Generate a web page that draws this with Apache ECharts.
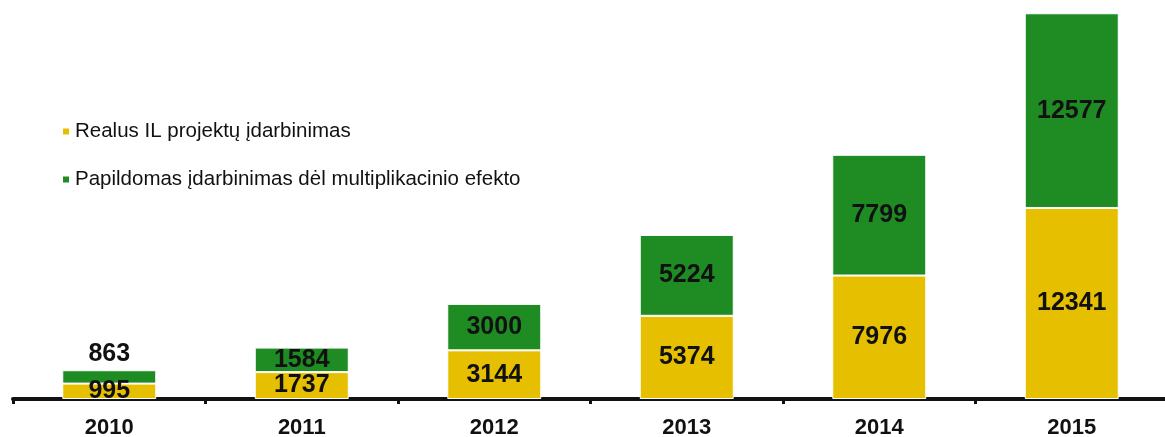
<!DOCTYPE html>
<html>
<head>
<meta charset="utf-8">
<script src="https://cdn.jsdelivr.net/npm/echarts@6/dist/echarts.min.js"></script>
<style>
  html, body { margin: 0; padding: 0; background: #fff; }
  #chart { width: 1165px; height: 437px; }
</style>
</head>
<body>
<div id="chart"></div>
<script>
var years = ['2010', '2011', '2012', '2013', '2014', '2015']
var realValues = [995, 1737, 3144, 5374, 7976, 12341]
var extraValues = [863, 1584, 3000, 5224, 7799, 12577]
var seriesNames = ['Realus IL projektų įdarbinimas', 'Papildomas įdarbinimas dėl multiplikacinio efekto']

var yellow = '#e6c000'
var green = '#1e8c23'
var font = 'Liberation Sans, Arial, sans-serif'

var chart = echarts.init(document.getElementById('chart'))

var labelStyle = {
  show: true,
  position: 'inside',
  color: '#111',
  fontFamily: font,
  fontWeight: 'bold',
  fontSize: 25
}

// first green segment is too thin, its label sits above the bar
var extraData = extraValues.map(function (v, i) {
  if (i === 0) {
    return { value: v, label: { position: 'top', distance: 4 } }
  }
  return v
})

chart.setOption({
  animation: false,
  grid: {
    left: 13,
    right: -3,
    top: 12,
    bottom: 38,
    outerBoundsMode: 'none'
  },
  legend: {
    orient: 'vertical',
    left: 56,
    top: 116,
    icon: 'rect',
    itemWidth: 8,
    itemHeight: 8,
    itemGap: 27,
    textStyle: {
      fontFamily: font,
      fontSize: 20.5,
      color: '#111'
    },
    data: seriesNames
  },
  xAxis: {
    type: 'category',
    data: years,
    axisLine: {
      lineStyle: { color: '#111', width: 4 }
    },
    axisTick: {
      show: true,
      length: 5,
      lineStyle: { color: '#111', width: 3 }
    },
    axisLabel: {
      margin: 18,
      color: '#111',
      fontFamily: font,
      fontWeight: 'bold',
      fontSize: 22
    }
  },
  yAxis: {
    type: 'value',
    min: 0,
    max: 25000,
    show: false
  },
  series: [{
    name: seriesNames[0],
    type: 'bar',
    stack: 'total',
    barWidth: 94,
    itemStyle: { color: yellow, borderColor: '#fff', borderWidth: 1 },
    label: labelStyle,
    data: realValues
  }, {
    name: seriesNames[1],
    type: 'bar',
    stack: 'total',
    barWidth: 94,
    itemStyle: { color: green, borderColor: '#fff', borderWidth: 1 },
    label: labelStyle,
    data: extraData
  }]
})
</script>
</body>
</html>
